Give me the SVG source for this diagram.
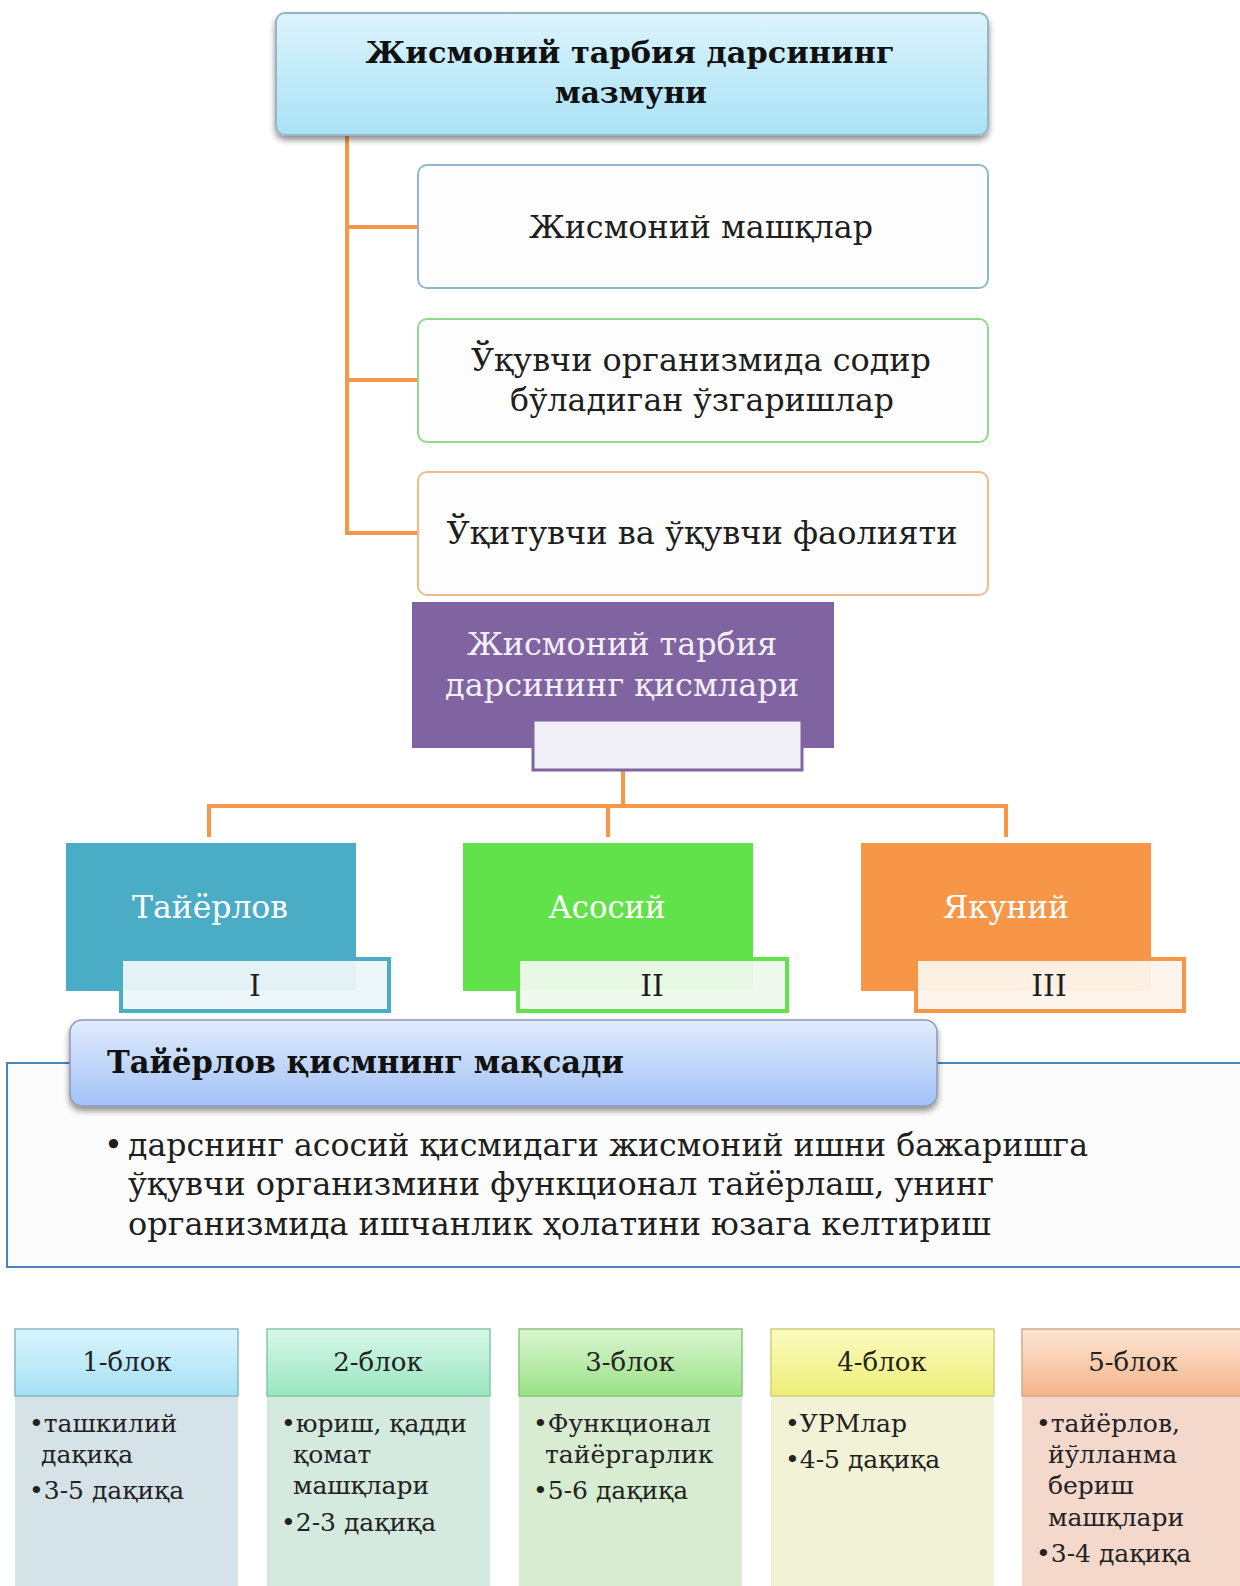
<svg xmlns="http://www.w3.org/2000/svg" width="1240" height="1586" viewBox="0 0 1240 1586">
  <defs>
    <linearGradient id="gTitle" x1="0" y1="0" x2="0" y2="1">
      <stop offset="0" stop-color="#dcf4fc"/>
      <stop offset="1" stop-color="#a9e2f6"/>
    </linearGradient>
    <linearGradient id="gGoal" x1="0" y1="0" x2="0" y2="1">
      <stop offset="0" stop-color="#e1ecfd"/>
      <stop offset="1" stop-color="#a3c2f6"/>
    </linearGradient>
    <linearGradient id="gB1" x1="0" y1="0" x2="0" y2="1">
      <stop offset="0" stop-color="#d9f5fd"/>
      <stop offset="1" stop-color="#a6e0f4"/>
    </linearGradient>
    <linearGradient id="gB2" x1="0" y1="0" x2="0" y2="1">
      <stop offset="0" stop-color="#d8f8ea"/>
      <stop offset="1" stop-color="#98e6c0"/>
    </linearGradient>
    <linearGradient id="gB3" x1="0" y1="0" x2="0" y2="1">
      <stop offset="0" stop-color="#daf6d0"/>
      <stop offset="1" stop-color="#9ae186"/>
    </linearGradient>
    <linearGradient id="gB4" x1="0" y1="0" x2="0" y2="1">
      <stop offset="0" stop-color="#fbfbc0"/>
      <stop offset="1" stop-color="#eeee78"/>
    </linearGradient>
    <linearGradient id="gB5" x1="0" y1="0" x2="0" y2="1">
      <stop offset="0" stop-color="#fde6d4"/>
      <stop offset="1" stop-color="#f4b48a"/>
    </linearGradient>
    <filter id="shadow" x="-5%" y="-10%" width="110%" height="130%">
      <feGaussianBlur in="SourceAlpha" stdDeviation="3"/>
      <feOffset dx="0" dy="4" result="b"/>
      <feComponentTransfer><feFuncA type="linear" slope="0.45"/></feComponentTransfer>
      <feMerge><feMergeNode/><feMergeNode in="SourceGraphic"/></feMerge>
    </filter>
  </defs>
  <style>
    text { font-family: "DejaVu Serif", "Liberation Serif", serif; }
    .bold { font-weight: bold; fill: #111; }
    .dark { fill: #1e1e1e; }
    .light { fill: #f3f0f7; }
    .white { fill: #ffffff; }
    .mid { text-anchor: middle; }
    .conn { fill: none; stroke: #f79646; stroke-width: 4; }
    .item { fill: #fdfdfd; stroke-width: 2; }
    .blk { font-size: 25px; fill: #222; }
    .blkh { font-size: 26px; fill: #222; text-anchor: middle; }
  </style>

  <rect width="1240" height="1586" fill="#ffffff"/>

  <!-- connectors -->
  <g id="connectors">
    <path class="conn" d="M347 135 V533 M345 227 H418 M345 380 H418 M345 533 H418"/>
    <path class="conn" d="M623 770 V806 M209 837 V806 H1006 V837 M608 806 V837"/>
  </g>

  <!-- content title -->
  <g id="title">
    <rect x="276" y="13" width="712" height="122" rx="9" fill="url(#gTitle)" stroke="#9bb3c0" stroke-width="2" filter="url(#shadow)"/>
    <text class="bold mid" x="630" y="63" font-size="30" textLength="529" lengthAdjust="spacingAndGlyphs">Жисмоний тарбия дарсининг</text>
    <text class="bold mid" x="631" y="103" font-size="30" textLength="152" lengthAdjust="spacingAndGlyphs">мазмуни</text>
  </g>

  <g id="item1">
    <rect class="item" x="418" y="165" width="570" height="123" rx="9" stroke="#8fb8cc"/>
    <text class="dark mid" x="701" y="238" font-size="31" textLength="344" lengthAdjust="spacingAndGlyphs">Жисмоний машқлар</text>
  </g>
  <g id="item2">
    <rect class="item" x="418" y="319" width="570" height="123" rx="9" stroke="#92d98e"/>
    <text class="dark mid" x="701" y="371" font-size="31" textLength="460" lengthAdjust="spacingAndGlyphs">Ўқувчи организмида содир</text>
    <text class="dark mid" x="702" y="411" font-size="31" textLength="384" lengthAdjust="spacingAndGlyphs">бўладиган ўзгаришлар</text>
  </g>
  <g id="item3">
    <rect class="item" x="418" y="472" width="570" height="123" rx="9" stroke="#f3b98e"/>
    <text class="dark mid" x="702" y="544" font-size="31" textLength="511" lengthAdjust="spacingAndGlyphs">Ўқитувчи ва ўқувчи фаолияти</text>
  </g>

  <!-- lesson parts -->
  <g id="parts">
    <rect x="412" y="602" width="422" height="146" fill="#8064a2"/>
    <rect x="533" y="720" width="269" height="50" fill="#f1eff6" stroke="#8064a2" stroke-width="3"/>
    <text class="light mid" x="622" y="655" font-size="32" textLength="310" lengthAdjust="spacingAndGlyphs">Жисмоний тарбия</text>
    <text class="light mid" x="622" y="696" font-size="32" textLength="354" lengthAdjust="spacingAndGlyphs">дарсининг қисмлари</text>
  </g>

  <g id="part1">
    <rect x="66" y="843" width="290" height="148" fill="#4bacc6"/>
    <rect x="121" y="959" width="268" height="52" fill="#ecf5f8" fill-opacity="0.95" stroke="#4bacc6" stroke-width="4"/>
    <text class="white mid" x="210" y="918" font-size="32" textLength="156" lengthAdjust="spacingAndGlyphs">Тайёрлов</text>
    <text class="dark mid" x="255" y="996" font-size="30">I</text>
  </g>
  <g id="part2">
    <rect x="463" y="843" width="290" height="148" fill="#62e24a"/>
    <rect x="518" y="959" width="269" height="52" fill="#eef9ec" fill-opacity="0.95" stroke="#62e24a" stroke-width="4"/>
    <text class="white mid" x="607" y="918" font-size="32" textLength="117" lengthAdjust="spacingAndGlyphs">Асосий</text>
    <text class="dark mid" x="652" y="996" font-size="30">II</text>
  </g>
  <g id="part3">
    <rect x="861" y="843" width="290" height="148" fill="#f79646"/>
    <rect x="916" y="959" width="268" height="52" fill="#fdf3ea" fill-opacity="0.95" stroke="#f79646" stroke-width="4"/>
    <text class="white mid" x="1006" y="918" font-size="32" textLength="126" lengthAdjust="spacingAndGlyphs">Якуний</text>
    <text class="dark mid" x="1049" y="996" font-size="30">III</text>
  </g>

  <!-- goal of the preparatory part -->
  <g id="goal">
    <rect x="7" y="1063" width="1245" height="204" fill="#fcfcfc" stroke="#4f81bd" stroke-width="2"/>
    <rect x="70" y="1020" width="867" height="86" rx="12" fill="url(#gGoal)" stroke="#8d9bb0" stroke-width="1.5" filter="url(#shadow)"/>
    <text class="bold" x="107" y="1073" font-size="31" textLength="517" lengthAdjust="spacingAndGlyphs">Тайёрлов қисмнинг мақсади</text>
    <text class="dark" x="104" y="1156" font-size="32">•</text>
    <text class="dark" x="128" y="1156" font-size="32" textLength="960" lengthAdjust="spacingAndGlyphs">дарснинг асосий қисмидаги жисмоний ишни бажаришга</text>
    <text class="dark" x="128" y="1195" font-size="32" textLength="866" lengthAdjust="spacingAndGlyphs">ўқувчи организмини функционал тайёрлаш, унинг</text>
    <text class="dark" x="128" y="1235" font-size="32" textLength="863" lengthAdjust="spacingAndGlyphs">организмида ишчанлик ҳолатини юзага келтириш</text>
  </g>

  <!-- five blocks -->
  <g id="block1">
    <rect x="15" y="1396" width="223" height="195" fill="#d5e3e9"/>
    <rect x="15" y="1329" width="223" height="67" fill="url(#gB1)" stroke="#86b6c8" stroke-width="1.5"/>
    <text class="blkh" x="127" y="1371">1-блок</text>
    <text class="blk" x="29" y="1432">•ташкилий</text>
    <text class="blk" x="41" y="1463">дақиқа</text>
    <text class="blk" x="29" y="1499">•3-5 дақиқа</text>
  </g>
  <g id="block2">
    <rect x="267" y="1396" width="223" height="195" fill="#d4eadf"/>
    <rect x="267" y="1329" width="223" height="67" fill="url(#gB2)" stroke="#86c8a8" stroke-width="1.5"/>
    <text class="blkh" x="378" y="1371">2-блок</text>
    <text class="blk" x="281" y="1432">•юриш, қадди</text>
    <text class="blk" x="293" y="1463">қомат</text>
    <text class="blk" x="293" y="1494">машқлари</text>
    <text class="blk" x="281" y="1531">•2-3 дақиқа</text>
  </g>
  <g id="block3">
    <rect x="519" y="1396" width="223" height="195" fill="#d7ecd0"/>
    <rect x="519" y="1329" width="223" height="67" fill="url(#gB3)" stroke="#88c878" stroke-width="1.5"/>
    <text class="blkh" x="630" y="1371">3-блок</text>
    <text class="blk" x="533" y="1432">•Функционал</text>
    <text class="blk" x="545" y="1463">тайёргарлик</text>
    <text class="blk" x="533" y="1499">•5-6 дақиқа</text>
  </g>
  <g id="block4">
    <rect x="771" y="1396" width="223" height="195" fill="#f2f3d6"/>
    <rect x="771" y="1329" width="223" height="67" fill="url(#gB4)" stroke="#d0d07a" stroke-width="1.5"/>
    <text class="blkh" x="882" y="1371">4-блок</text>
    <text class="blk" x="785" y="1432">•УРМлар</text>
    <text class="blk" x="785" y="1468">•4-5 дақиқа</text>
  </g>
  <g id="block5">
    <rect x="1022" y="1396" width="223" height="195" fill="#f4d8cb"/>
    <rect x="1022" y="1329" width="223" height="67" fill="url(#gB5)" stroke="#d8a888" stroke-width="1.5"/>
    <text class="blkh" x="1133" y="1371">5-блок</text>
    <text class="blk" x="1036" y="1432">•тайёрлов,</text>
    <text class="blk" x="1048" y="1463">йўлланма</text>
    <text class="blk" x="1048" y="1494">бериш</text>
    <text class="blk" x="1048" y="1526">машқлари</text>
    <text class="blk" x="1036" y="1562">•3-4 дақиқа</text>
  </g>
</svg>
